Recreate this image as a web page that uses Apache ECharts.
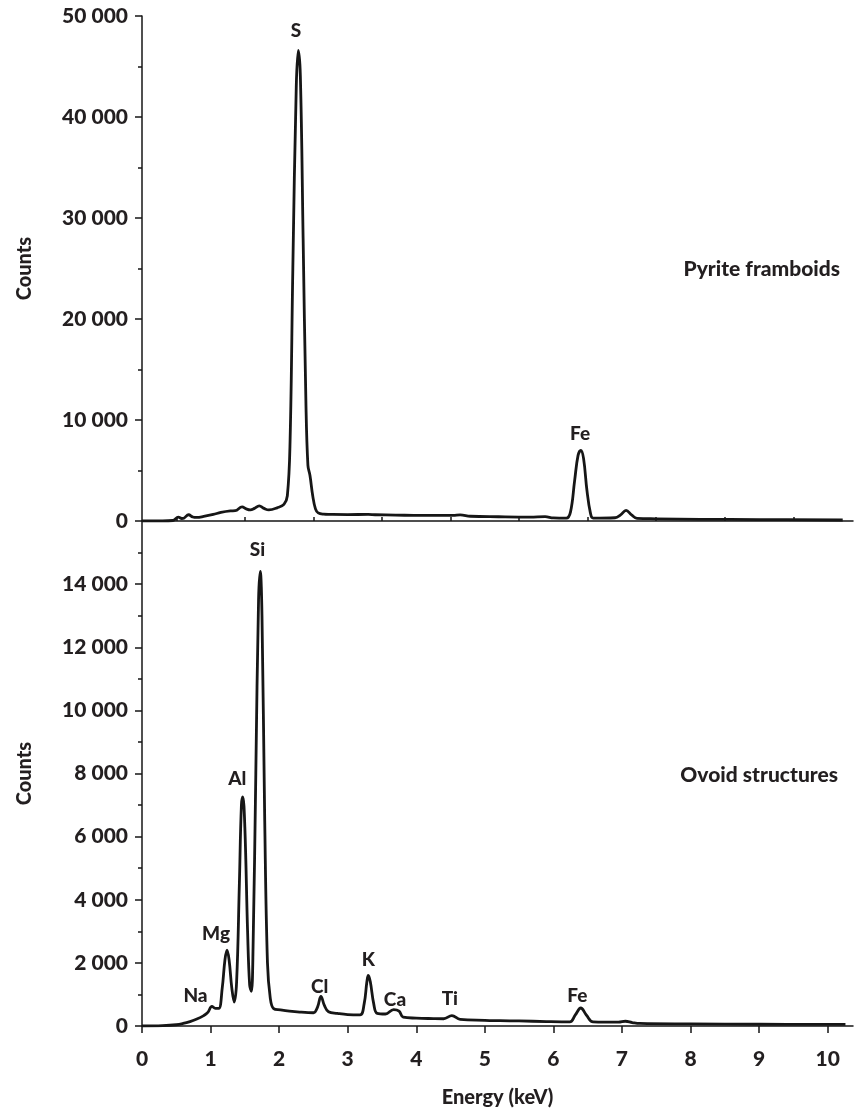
<!DOCTYPE html>
<html>
<head>
<meta charset="utf-8">
<script src="https://cdn.jsdelivr.net/npm/echarts@6/dist/echarts.min.js"></script>
<style>
html,body{margin:0;padding:0;background:#fff;}
#c{width:854px;height:1112px;}
</style>
</head>
<body>
<div id="c"></div>
<script>
// ---- Data ----
// Top panel: Pyrite framboids (energy keV, counts)
const pyriteEnergy = [0,0.3,0.45,0.53,0.58,0.61,0.68,0.74,0.80,0.9,1.04,1.15,1.29,1.36,1.46,1.52,1.58,1.64,1.71,1.78,1.85,1.97,2.07,2.12,2.16,2.20,2.25,2.28,2.31,2.35,2.39,2.42,2.45,2.49,2.53,2.57,2.65,2.74,3.0,3.30,3.4,3.7,3.96,4.3,4.54,4.64,4.79,5.2,5.66,5.88,6.0,6.19,6.25,6.31,6.36,6.40,6.44,6.49,6.54,6.58,6.90,6.98,7.06,7.14,7.22,7.5,8.14,9.0,10.22];
const pyriteCounts = [0,0,50,380,250,280,620,400,350,450,650,850,1000,1020,1400,1200,1100,1250,1500,1250,1100,1300,1650,2500,8000,25000,43000,46600,44000,28000,12000,5500,4500,2500,1200,800,680,660,640,650,620,580,560,550,560,610,470,420,390,430,300,280,900,4000,6500,7000,6200,3000,800,280,320,600,1050,600,270,220,170,140,100];

// Bottom panel: Ovoid structures
const ovoidEnergy = [0,0.3,0.5,0.6,0.7,0.8,0.9,0.96,1.02,1.07,1.12,1.17,1.21,1.24,1.27,1.31,1.345,1.38,1.42,1.45,1.47,1.50,1.54,1.57,1.595,1.62,1.66,1.70,1.725,1.75,1.79,1.83,1.87,1.92,2.02,2.15,2.3,2.5,2.56,2.61,2.66,2.72,2.85,3.0,3.18,3.24,3.28,3.30,3.33,3.38,3.43,3.55,3.67,3.75,3.81,4.0,4.25,4.4,4.52,4.64,5.0,5.22,5.5,5.9,6.24,6.32,6.40,6.48,6.58,6.95,7.05,7.15,7.26,8.0,9.0,10.26];
const ovoidCounts = [0,10,40,80,140,220,330,430,620,560,560,1200,2100,2400,2100,1200,760,1400,4500,7000,7260,6300,3000,1300,1100,2500,8000,13500,14400,13000,6500,2000,900,550,510,470,440,420,600,940,650,450,400,360,350,700,1400,1600,1400,700,400,380,520,470,280,250,235,230,330,210,180,170,160,140,130,350,570,350,130,120,150,110,80,65,55,50];

// Peak labels (label centre in data coordinates)
const pyriteLabelNames = ['S','Fe'];
const pyriteLabelEnergy = [2.245,6.39];
const pyriteLabelCounts = [48500,8650];

const ovoidLabelNames = ['Na','Mg','Al','Si','Cl','K','Ca','Ti','Fe'];
const ovoidLabelEnergy = [0.78,1.08,1.39,1.685,2.59,3.30,3.69,4.49,6.35];
const ovoidLabelCounts = [940,2930,7840,15100,1240,2080,840,870,970];

// Axis ticks
const energyMajorTicks = [0,1,2,3,4,5,6,7,8,9,10];
const energyMinorTicks = [0.5,1.5,2.5,3.5,4.5,5.5,6.5,7.5,8.5,9.5];

const panelTitles = ['Pyrite framboids','Ovoid structures'];

// ---- Chart ----
const FONT = 'Lato';
const TXT = '#231f20';
const LINE = '#161616';
const fmt = v => String(v).replace(/\B(?=(\d{3})+(?!\d))/g, ' ');
const zip = (a,b) => a.map((x,i)=>[x,b[i]]);
const labelData = (n,e,c) => n.map((nm,i)=>({name:nm,value:[e[i],c[i]]}));

const axisLineStyle = {color:LINE,width:1.5};
const chart = echarts.init(document.getElementById('c'), null, {renderer:'canvas'});
const xBase = {type:'value',min:0,max:10.37,splitLine:{show:false}};
const labelStyle = {fontFamily:FONT,fontWeight:900,fontSize:21,color:TXT};

chart.setOption({
  animation:false,
  backgroundColor:'#fff',
  grid:[
    {left:142,right:1,top:16,height:505},
    {left:142,right:1,top:521,height:505}
  ],
  xAxis:[
    Object.assign({},xBase,{gridIndex:0,axisLine:{lineStyle:axisLineStyle},axisTick:{show:false},axisLabel:{show:false}}),
    Object.assign({},xBase,{gridIndex:1,axisLine:{lineStyle:axisLineStyle},
      axisTick:{length:7,lineStyle:axisLineStyle,customValues:energyMajorTicks},
      axisLabel:Object.assign({margin:23,customValues:energyMajorTicks},labelStyle),
      name:'Energy (keV)',nameLocation:'middle',nameGap:62,
      nameTextStyle:{fontFamily:FONT,fontWeight:900,fontSize:20,color:TXT}}),
    Object.assign({},xBase,{gridIndex:1,axisLine:{show:false},
      axisTick:{length:4,lineStyle:axisLineStyle,customValues:energyMinorTicks},
      axisLabel:{show:false}})
  ],
  yAxis:[
    {type:'value',gridIndex:0,min:0,max:50000,interval:10000,splitLine:{show:false},
     axisLine:{show:true,lineStyle:axisLineStyle},
     axisTick:{show:true,length:7,lineStyle:axisLineStyle},
     minorTick:{show:true,splitNumber:2,length:4,lineStyle:axisLineStyle},
     axisLabel:Object.assign({margin:14,formatter:fmt},labelStyle),
     name:'Counts',nameLocation:'middle',nameGap:107,nameRotate:90,
     nameTextStyle:{fontFamily:FONT,fontWeight:900,fontSize:20,color:TXT}},
    {type:'value',gridIndex:1,min:0,max:16000,interval:2000,splitLine:{show:false},
     axisLine:{show:true,lineStyle:axisLineStyle},
     axisTick:{show:true,length:7,lineStyle:axisLineStyle},
     minorTick:{show:true,splitNumber:2,length:4,lineStyle:axisLineStyle},
     axisLabel:Object.assign({margin:14,formatter:fmt,showMaxLabel:false},labelStyle),
     name:'Counts',nameLocation:'middle',nameGap:107,nameRotate:90,
     nameTextStyle:{fontFamily:FONT,fontWeight:900,fontSize:20,color:TXT}}
  ],
  series:[
    {type:'line',xAxisIndex:0,yAxisIndex:0,data:zip(pyriteEnergy,pyriteCounts),
     showSymbol:false,smooth:0.4,lineStyle:{color:LINE,width:2.8,join:'round'},silent:true},
    {type:'line',xAxisIndex:1,yAxisIndex:1,data:zip(ovoidEnergy,ovoidCounts),
     showSymbol:false,smooth:0.4,lineStyle:{color:LINE,width:2.8,join:'round'},silent:true},
    {type:'scatter',xAxisIndex:0,yAxisIndex:0,symbolSize:0,silent:true,itemStyle:{opacity:1},
     data:labelData(pyriteLabelNames,pyriteLabelEnergy,pyriteLabelCounts),
     label:Object.assign({show:true,position:'inside',formatter:p=>p.name,opacity:1},labelStyle,{fontSize:19})},
    {type:'scatter',xAxisIndex:1,yAxisIndex:1,symbolSize:0,silent:true,itemStyle:{opacity:1},
     data:labelData(ovoidLabelNames,ovoidLabelEnergy,ovoidLabelCounts),
     label:Object.assign({show:true,position:'inside',formatter:p=>p.name,opacity:1},labelStyle,{fontSize:19})}
  ],
  graphic:[
    {type:'text',x:840,y:269,style:{text:panelTitles[0],align:'right',verticalAlign:'middle',
      font:'900 21px Lato',fill:TXT}},
    {type:'text',x:838,y:775,style:{text:panelTitles[1],align:'right',verticalAlign:'middle',
      font:'900 21px Lato',fill:TXT}}
  ]
});
</script>
</body>
</html>
